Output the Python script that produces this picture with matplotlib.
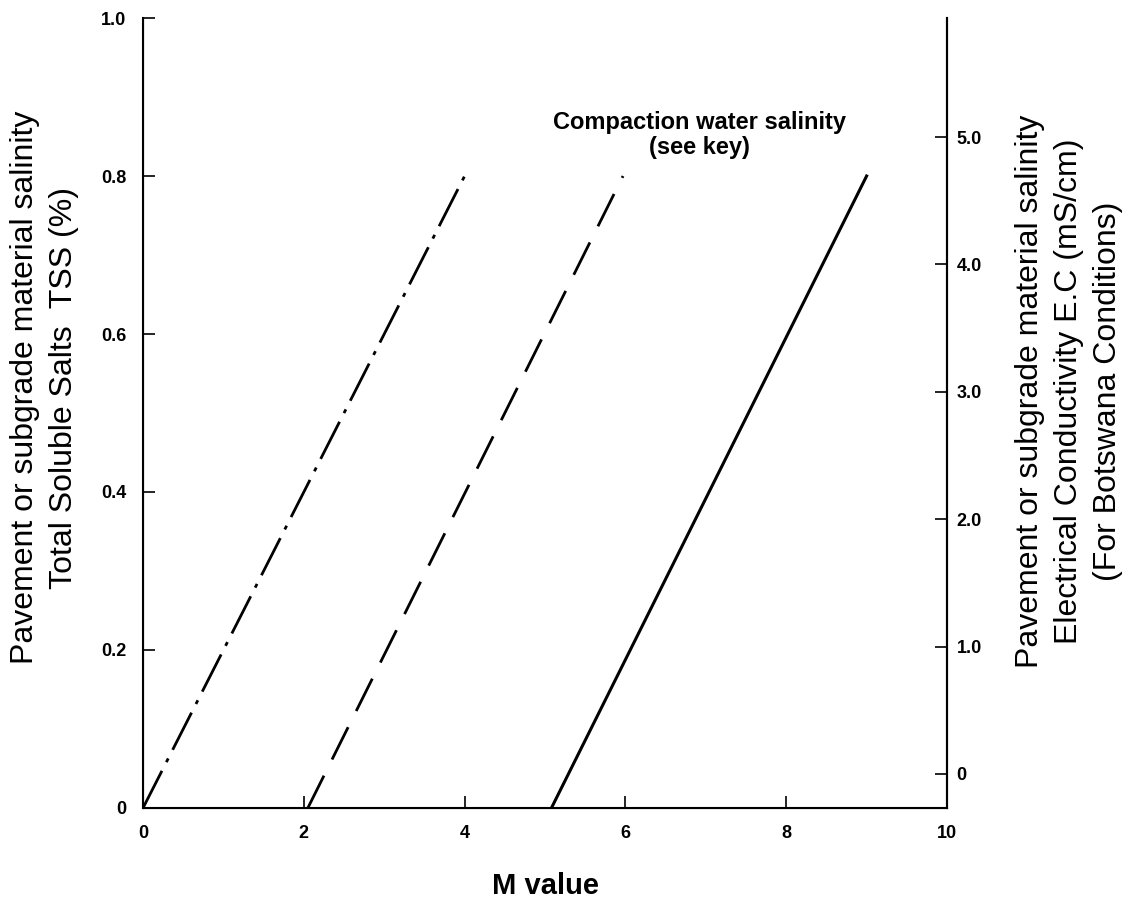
import matplotlib
matplotlib.use('Agg')
import matplotlib.pyplot as plt

# ---- data ----
tss_ends = [0.0, 0.8]                 # TSS (%) at both ends of each line
m_dashdot = [0.0, 4.0]                # M value, dash-dot curve
m_dashed = [2.05, 5.97]               # M value, dashed curve
m_solid = [5.08, 9.0]                 # M value, solid curve

x_ticks = [0, 2, 4, 6, 8, 10]
y_ticks = [0, 0.2, 0.4, 0.6, 0.8, 1.0]
y_ticklabels = ['0', '0.2', '0.4', '0.6', '0.8', '1.0']
ec_ticks = [0, 1, 2, 3, 4, 5]
ec_ticklabels = ['0', '1.0', '2.0', '3.0', '4.0', '5.0']
ec_lim = (-0.267, 5.934)              # EC range matching TSS 0..1

plt.rcParams['font.family'] = ['Liberation Sans', 'DejaVu Sans']
plt.rcParams['lines.scale_dashes'] = False

fig = plt.figure(figsize=(11.37, 9.06), dpi=100)
ax = fig.add_axes([0.1258, 0.1082, 0.8329 - 0.1258, 0.9801 - 0.1082])

ax.plot(m_dashdot, tss_ends, color='black', lw=2.0, ls=(0, (30, 7, 3, 7)))
ax.plot(m_dashed, tss_ends, color='black', lw=2.0, ls=(0, (26, 13)))
ax.plot(m_solid, tss_ends, color='black', lw=2.2, ls='-')

ax.set_xlim(0, 10)
ax.set_ylim(0, 1.0)
ax.set_xticks(x_ticks)
ax.set_xticklabels([str(v) for v in x_ticks])
ax.set_yticks(y_ticks)
ax.set_yticklabels(y_ticklabels)
for s in ['left', 'bottom', 'right']:
    ax.spines[s].set_linewidth(1.5)
ax.spines['top'].set_visible(False)
ax.tick_params(axis='both', direction='in', length=8.5, width=1.2,
               labelsize=13, pad=12)
for lab in ax.get_xticklabels() + ax.get_yticklabels():
    lab.set_fontweight('bold')

ax.set_xlabel('M value', fontsize=21, fontweight='bold', labelpad=22)

ax2 = ax.twinx()
ax2.set_ylim(*ec_lim)
ax2.set_yticks(ec_ticks)
ax2.set_yticklabels(ec_ticklabels)
ax2.spines['top'].set_visible(False)
ax2.spines['right'].set_linewidth(1.5)
ax2.tick_params(axis='y', direction='in', length=8.5, width=1.2,
                labelsize=13, pad=7)
for lab in ax2.get_yticklabels():
    lab.set_fontweight('bold')

fig.text(0.039, 0.572,
         'Pavement or subgrade material salinity\nTotal Soluble Salts  TSS (%)',
         rotation=90, ha='center', va='center', fontsize=23, linespacing=1.38,
         multialignment='center')
fig.text(0.940, 0.568,
         'Pavement or subgrade material salinity\nElectrical Conductivity E.C (mS/cm)\n(For Botswana Conditions)',
         rotation=90, ha='center', va='center', fontsize=23, linespacing=1.4,
         multialignment='center')

ax.text(6.92, 0.852, 'Compaction water salinity\n(see key)', ha='center',
        va='center', fontsize=17, fontweight='bold', linespacing=1.1)

fig.savefig('out.png', dpi=100, facecolor='white')
